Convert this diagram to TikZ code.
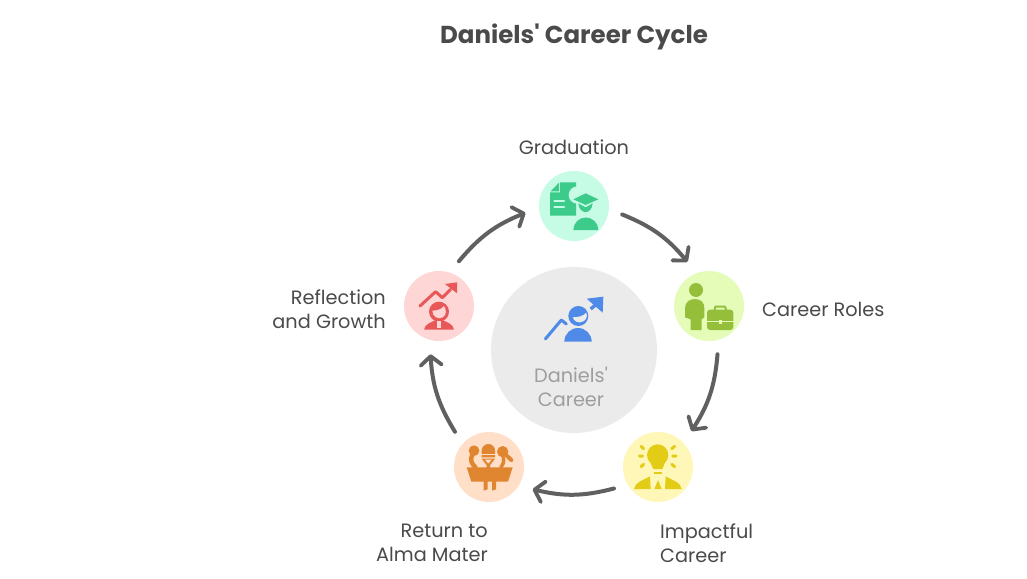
\documentclass[tikz,border=0pt]{standalone}
\usepackage{fontspec}
\setmainfont[Ligatures=TeXOff]{Poppins}
\usetikzlibrary{arrows.meta}
\definecolor{txt}{HTML}{4A4A4A}
\definecolor{arrowc}{HTML}{606060}
\definecolor{gbg}{HTML}{C6FCE5}\definecolor{gic}{HTML}{3DCB8B}
\definecolor{cbg}{HTML}{E5FCB9}\definecolor{cic}{HTML}{95BF3A}
\definecolor{ibg}{HTML}{FFF7B8}\definecolor{iic}{HTML}{E3CC16}
\definecolor{rbg}{HTML}{FFDFC8}\definecolor{ric}{HTML}{E08530}
\definecolor{fbg}{HTML}{FFD6D6}\definecolor{fic}{HTML}{E85858}
\definecolor{mbg}{HTML}{EBEBEB}\definecolor{mic}{HTML}{4F8AE8}
\tikzset{
  stage/.style={circle,minimum size=70pt,inner sep=0pt,outer sep=14pt,fill=#1},
  hub/.style={circle,minimum size=166pt,inner sep=0pt,fill=mbg},
  lbl/.style={text=txt,font=\fontsize{19.3}{24}\selectfont,inner sep=0pt},
  flow/.style={draw=arrowc,line width=4pt,line cap=round,line join=round,
    -{Straight Barb[length=9pt,width=21pt,line width=3.8pt,round]}},
  zoomed/.style={x=.33333pt,y=-.33333pt,line cap=round,line join=round}
}
\begin{document}
\begin{tikzpicture}[x=1pt,y=-1pt]
\useasboundingbox (0,0) rectangle (1027,578);
\fill[white] (0,0) rectangle (1027,578);
\node[text=txt,font=\fontsize{24.5}{28}\selectfont\bfseries,inner sep=0pt] (title) at (574,36.5) {Daniels' Career Cycle};

\node[hub] (hubc) at (574,350) {};
\node[stage=gbg] (grad) at (574,206) {};
\node[stage=cbg] (role) at (709,306) {};
\node[stage=ibg] (impa) at (658,467) {};
\node[stage=rbg] (retu) at (489,467) {};
\node[stage=fbg] (refl) at (439,306) {};

\draw[flow] (grad.-10) to[bend left=14] (role.116);
\draw[flow] (role.-80) to[bend left=14] (impa.47);
\draw[flow] (impa.206) to[bend left=14] (retu.-27);
\draw[flow] (retu.134) to[bend left=14] (refl.260);
\draw[flow] (refl.66) to[bend left=14] (grad.188);

\node[lbl] (lg) at (574,147) {Graduation};
\node[lbl,anchor=west] (lc) at (762,309) {Career Roles};
\node[lbl,anchor=west,align=left] (li) at (660,543) {Impactful\\Career};
\node[lbl,anchor=east,align=right] (lr) at (488,543) {Return to\\Alma Mater};
\node[lbl,anchor=east,align=right] (lf) at (386,309) {Reflection\\and Growth};
\node[lbl,align=center,text=black!38] (lh) at (571,387) {Daniels'\\Career};

% graduation icon
\begin{scope}[shift={(520,160)},zoomed]
\fill[gic] (120,67)--(168,67)--(168,167)--(90,167)--(90,97)--(120,97)--cycle;
\fill[gic] (117,68)--(117,94)--(92,94)--cycle;
\draw[gbg,line width=2.2pt] (103,122)--(132,122) (103,142)--(132,142);
\fill[gbg] (172,105) circle (26);
\fill[gbg] (170,108)--(240,108)--(240,170)--(170,170)--cycle;
\fill[gic] (160,118)--(197,100)--(235,118)--(197,135)--cycle;
\fill[gic] (175,130) .. controls (178,165) and (215,165) .. (218,130) --(197,142)--cycle;
\fill[gic] (160,210) arc[start angle=180,end angle=360,radius=37.5] --cycle;
\end{scope}
% career roles icon
\begin{scope}[shift={(520,160)},zoomed]
\fill[cic] (528,390) circle (21);
\fill[cic] (495,472)--(495,445) .. controls (495,425) and (510,417) .. (525,417) .. controls (545,417) and (553,430) .. (553,445) --(553,472)--(545,478)--(545,510)--(512,510)--(512,478)--cycle;
\draw[cic,line width=2pt] (584,449)--(586,440)--(615,440)--(618,449);
\fill[cic,rounded corners=3pt] (561,449) rectangle (640,510);
\draw[cbg,line width=1pt] (561,483)--(640,483);
\fill[cbg] (596,480) rectangle (605,491);
\end{scope}
% impact icon
\begin{scope}[shift={(440,420)},zoomed]
\fill[iic] (653,105) circle (32);
\fill[iic] (630,125)--(676,125)--(667,147)--(640,147)--cycle;
\draw[iic,line width=3pt] (603,79)--(611,86) (598,108)--(608,108) (603,140)--(611,133)
  (704,79)--(695,86) (708,108)--(698,108) (704,140)--(695,133);
\draw[iic,line width=2pt,line cap=butt] (641,159)--(667,159);
\fill[iic] (582,207) .. controls (584,188) and (610,180) .. (630,169) -- (632,207)--cycle;
\fill[iic] (725,207) .. controls (723,188) and (697,180) .. (677,169) -- (675,207)--cycle;
\fill[iic] (654,180)--(643,207)--(665,207)--cycle;
\end{scope}
% return icon
\begin{scope}[shift={(440,420)},zoomed]
\fill[ric] (125,92) arc[start angle=180,end angle=360,radius=20] --(165,112)--(125,112)--cycle;
\draw[rbg,line width=1.1pt] (124,104)--(166,104);
\fill[ric] (125,116)--(165,116)--(150,136)--(150,144)--(140,144)--(140,136)--cycle;
\fill[rbg] (135,119)--(155,119)--(146,130)--(144,130)--cycle;
\fill[ric] (80,142)--(218,142)--(204,185)--(168,185)--(168,208)--(156,212)--(156,185)--(143,185)--(143,208)--(131,212)--(131,185)--(94,185)--cycle;
\fill[ric] (102,92) circle (16);
\draw[ric,line width=4.5pt] (98,102) .. controls (88,120) and (95,130) .. (106,142);
\fill[ric] (188,95) circle (17);
\draw[ric,line width=4pt] (195,102)--(214,120);
\draw[ric,line width=3.5pt] (190,112) .. controls (192,125) and (190,135) .. (183,142);
\end{scope}
% reflection icon
\begin{scope}[shift={(400,260)},zoomed]
\draw[fic,line width=3pt] (60,138)--(107,95)--(127,113)--(152,88);
\fill[fic] (135,72)--(171,67)--(171,100)--cycle;
\fill[fic] (117,155) circle (30);
\fill[fbg] (97,152) .. controls (110,152) and (125,148) .. (132,138) .. controls (140,150) and (140,165) .. (128,172) .. controls (115,180) and (97,170) .. (97,152)--cycle;
\fill[fic] (72,209) .. controls (74,192) and (95,186) .. (108,180) --(126,180) .. controls (140,186) and (160,192) .. (162,209)--cycle;
\fill[fbg] (112,182) rectangle (122,204);
\end{scope}
% hub icon
\begin{scope}[shift={(400,260)},zoomed]
\draw[mic,line width=3pt] (436,237)--(484,180)--(499,192);
\draw[mic,line width=3.4pt,line cap=butt] (572,147)--(590,132);
\fill[mic] (560,116)--(610,110)--(608,158)--cycle;
\fill[mic] (535,168) circle (30);
\fill[mbg] (518,172) .. controls (535,172) and (550,168) .. (559,158) .. controls (565,172) and (555,186) .. (540,187) .. controls (530,188) and (522,182) .. (518,172)--cycle;
\fill[mic] (493,245) arc[start angle=180,end angle=360,radius=41] --cycle;
\end{scope}
\end{tikzpicture}
\end{document}
